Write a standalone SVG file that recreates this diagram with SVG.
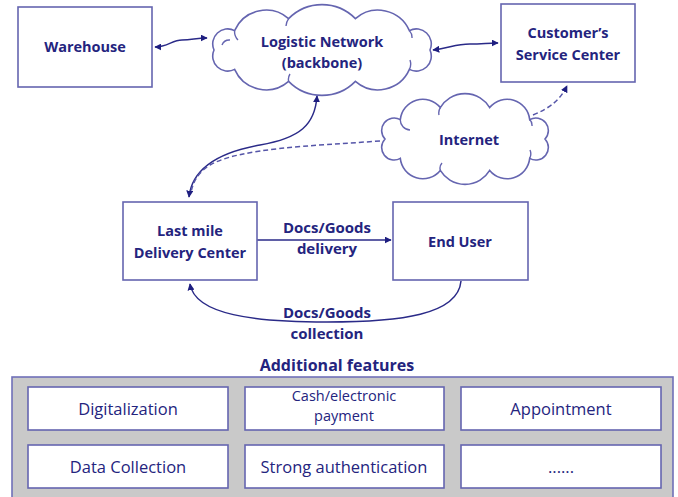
<svg xmlns="http://www.w3.org/2000/svg" width="678" height="497" viewBox="0 0 678 497">
<style>
.box{fill:#fff;stroke:#6565b0;stroke-width:1.6}
.cloud{fill:#fff;stroke:#6565b0;stroke-width:1.6}
.inner{fill:none;stroke:#6565b0;stroke-width:1.4}
.t{font-family:"Open Sans","Liberation Sans",sans-serif;font-weight:bold;font-size:14.5px;fill:#24247e;text-anchor:middle}
.l{font-size:15px}
.f{font-family:"Open Sans","Liberation Sans",sans-serif;font-size:16.5px;fill:#24247e;text-anchor:middle}
.p{font-size:14.5px}
.c{fill:none;stroke:#2a2a88;stroke-width:1.5}
.d{fill:none;stroke:#5555a8;stroke-width:1.5;stroke-dasharray:5,3}
.fb{fill:#fff;stroke:#6565b0;stroke-width:1.6}
</style>
<defs>
<marker id="ah" viewBox="0 0 10 10" refX="9" refY="5" markerWidth="7" markerHeight="7" orient="auto-start-reverse" markerUnits="userSpaceOnUse">
<path d="M0,0 L10,5 L0,10 z" fill="#1e1e80"/>
</marker>
</defs>

<g id="connectors">
<path class="c" d="M155,47 C168,47 172,40 182,40 C192,40 196,38 207,38" marker-start="url(#ah)" marker-end="url(#ah)"/>
<path class="c" d="M433,50 C450,48 455,44 470,44 C482,44 488,43 498,43" marker-start="url(#ah)" marker-end="url(#ah)"/>
<path class="c" d="M317,96 C315,125 300,138 260,145 C215,153 192,170 189,197" marker-start="url(#ah)" marker-end="url(#ah)"/>
<path class="d" d="M380,141 C310,146 240,148 210,165 C197,173 193,183 191,192"/>
<path class="d" d="M533,115 C550,108 560,100 567,86" marker-end="url(#ah)"/>
<path class="c" d="M257,240 L391,240" marker-end="url(#ah)"/>
<path class="c" d="M461,281 C458,315 400,322 327,322 C255,322 195,315 190,284" marker-end="url(#ah)"/>
</g>

<g id="warehouse">
<rect class="box" x="18" y="7" width="134" height="80"/>
<text class="t" x="85" y="52">Warehouse</text>
</g>

<g id="logistic-network">
<path class="cloud" d="M214,50 A15,15 0 0 1 234.6,30.6 A34.4,34.4 0 0 1 288.6,18.6 A46.8,46.8 0 0 1 355.4,18.6 A34.4,34.4 0 0 1 409.4,30.6 A15,15 0 0 1 430,50 A15,15 0 0 1 409.4,69.4 A34.4,34.4 0 0 1 355.4,81.4 A46.8,46.8 0 0 1 288.6,81.4 A34.4,34.4 0 0 1 234.6,69.4 A15,15 0 0 1 214,50 z"/>
<path class="inner" d="M234.6,30.6 A12,12 0 0 0 238,40 M288.6,18.6 A14,14 0 0 0 286,26 M409.4,30.6 A10,10 0 0 1 412,38 M409.4,69.4 A12,12 0 0 0 410,60 M288.6,81.4 A10,10 0 0 1 290,74 M222,45 A8,8 0 0 1 230,40"/>
<text class="t" x="322" y="47">Logistic Network</text>
<text class="t" x="322" y="68">(backbone)</text>
</g>

<g id="customer-service-center">
<rect class="box" x="501" y="4" width="134" height="78"/>
<text class="t" x="568" y="38">Customer’s</text>
<text class="t" x="568" y="60">Service Center</text>
</g>

<g id="internet">
<path class="cloud" d="M385,139 A12.5,12.5 0 0 1 400.3,119.6 A22.6,22.6 0 0 1 440.3,107.6 A28.8,28.8 0 0 1 489.7,107.6 A22.6,22.6 0 0 1 529.7,119.6 A12.5,12.5 0 0 1 545,139 A12.5,12.5 0 0 1 529.7,158.4 A22.6,22.6 0 0 1 489.7,170.4 A28.8,28.8 0 0 1 440.3,170.4 A22.6,22.6 0 0 1 400.3,158.4 A12.5,12.5 0 0 1 385,139 z"/>
<path class="inner" d="M400.3,119.6 A10,10 0 0 0 410,130 M440.3,107.6 A10,10 0 0 0 439,115 M529.7,119.6 A8,8 0 0 1 532,126 M529.7,158.4 A10,10 0 0 0 530,150 M440.3,170.4 A8,8 0 0 1 442,163"/>
<text class="t" x="469" y="145">Internet</text>
</g>

<g id="last-mile">
<rect class="box" x="123" y="202" width="134" height="78"/>
<text class="t" x="190" y="236">Last mile</text>
<text class="t" x="190" y="258">Delivery Center</text>
</g>

<g id="end-user">
<rect class="box" x="393" y="202" width="135" height="78"/>
<text class="t" x="460" y="247">End User</text>
</g>

<g id="labels">
<text class="t l" x="327" y="233">Docs/Goods</text>
<text class="t l" x="327" y="254">delivery</text>
<text class="t l" x="327" y="318">Docs/Goods</text>
<text class="t l" x="327" y="339">collection</text>
</g>

<g id="additional-features">
<text class="t" x="337" y="371" style="font-size:16px">Additional features</text>
<rect x="12" y="377" width="661" height="125" fill="#c9c9c9" stroke="#7070b8" stroke-width="1.6"/>
<g id="f-digitalization"><rect class="fb" x="28" y="387" width="200" height="43"/><text class="f" x="128" y="415">Digitalization</text></g>
<g id="f-payment"><rect class="fb" x="245" y="387" width="199" height="43"/><text class="f p" x="344" y="401">Cash/electronic</text><text class="f p" x="344" y="421">payment</text></g>
<g id="f-appointment"><rect class="fb" x="461" y="387" width="200" height="43"/><text class="f" x="561" y="415">Appointment</text></g>
<g id="f-data"><rect class="fb" x="28" y="445" width="200" height="43"/><text class="f" x="128" y="473">Data Collection</text></g>
<g id="f-auth"><rect class="fb" x="245" y="445" width="199" height="43"/><text class="f" x="344" y="473">Strong authentication</text></g>
<g id="f-more"><rect class="fb" x="461" y="445" width="200" height="43"/><text class="f" x="561" y="473">......</text></g>
</g>
</svg>
